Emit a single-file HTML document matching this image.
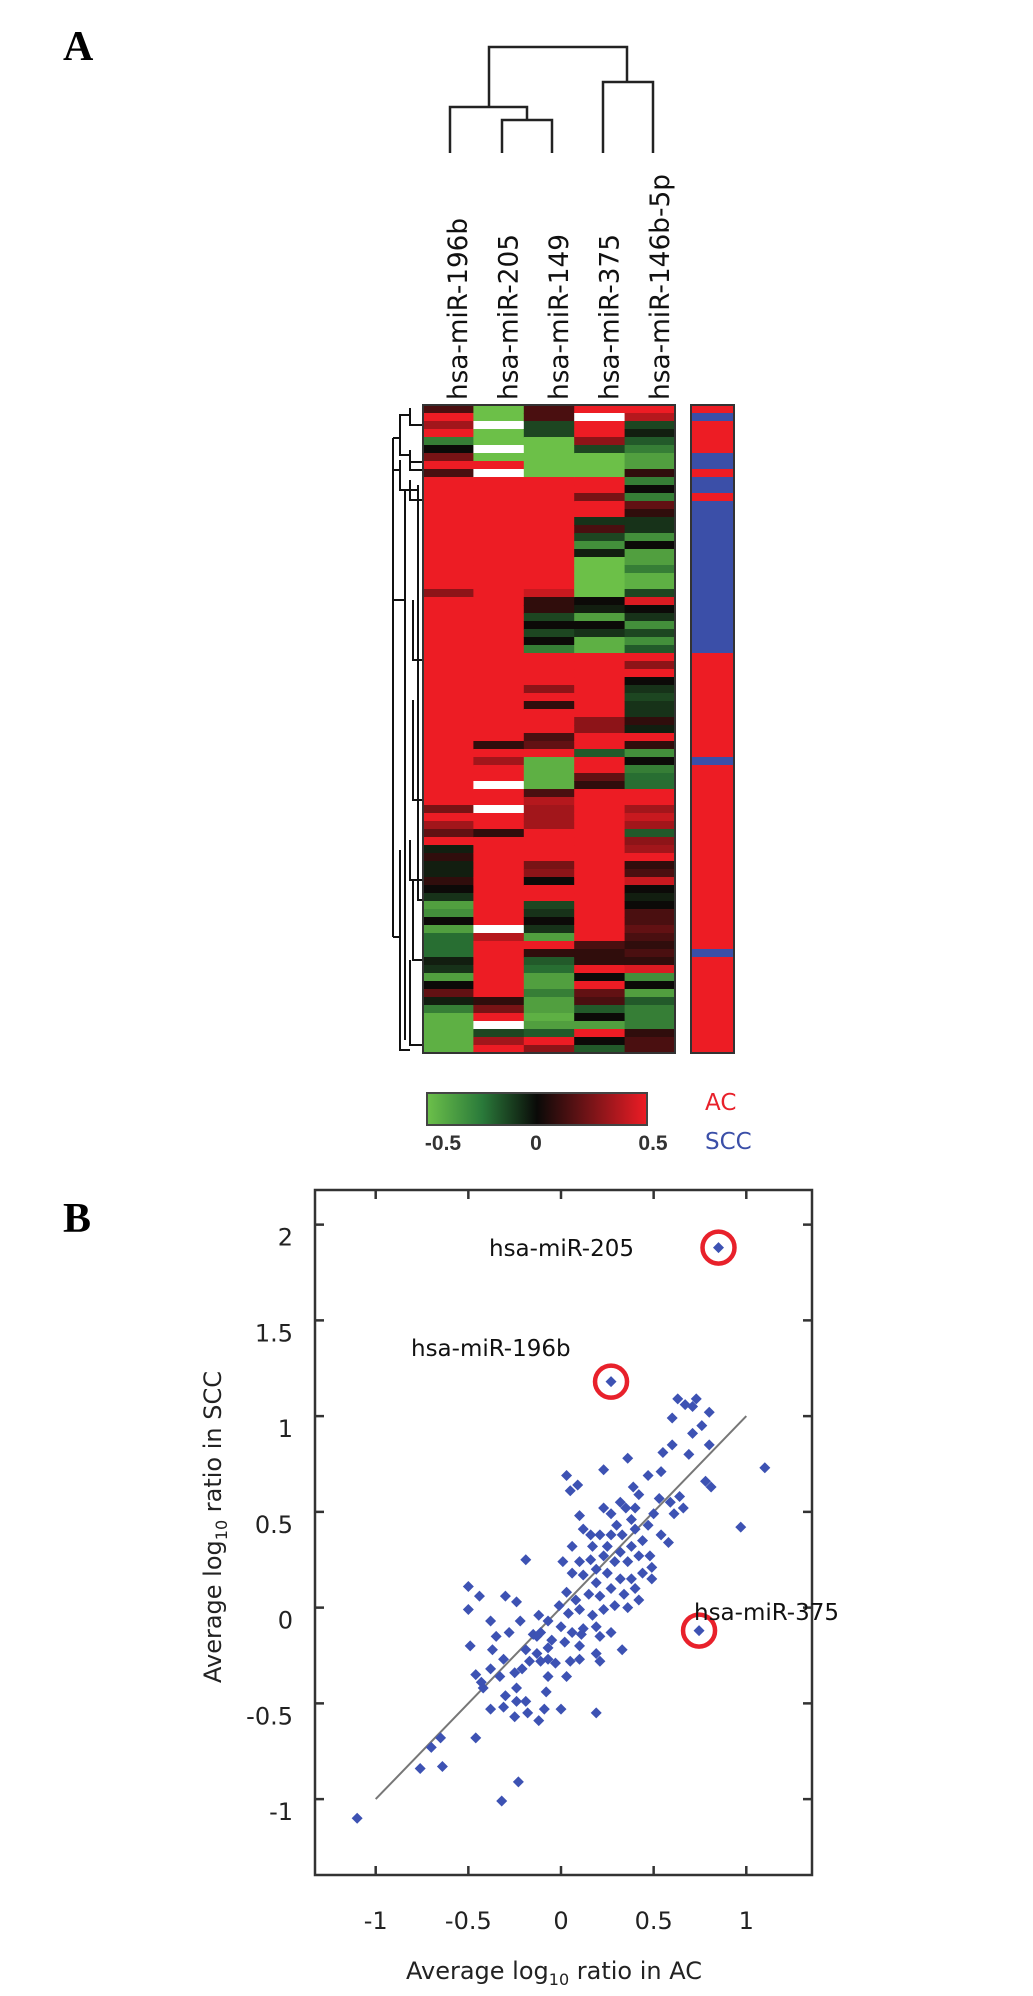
<!DOCTYPE html>
<html><head><meta charset="utf-8"><style>
html,body{margin:0;padding:0;background:#fff;}
svg{display:block;}
</style></head><body>
<svg id="fig" width="1033" height="1996" viewBox="0 0 1033 1996" xmlns="http://www.w3.org/2000/svg">
<text x="63" y="60" font-family="Liberation Serif, serif" font-weight="bold" font-size="42">A</text>
<text x="63" y="1232" font-family="Liberation Serif, serif" font-weight="bold" font-size="42">B</text>
<g id="coldendro" stroke="#222" stroke-width="2.5" fill="none">
<path d="M450 153 V107 H527 V120 M502 153 V120 H552 V153 M489 107 V47 H627 V82 M603 153 V82 H653 V153"/>
</g>
<g id="rowdendro" stroke="#111" stroke-width="2" fill="none">
<path d="M393 438 V937 M393 438 H400 V415 H410 M400 415 V455 H410 M410 408 V425 H423 M410 450 V462 H423 M393 470 H400 V460 M400 460 V490 H410 M410 455 V470 H423 M410 480 V500 H423 M393 600 H405 M405 490 V1040 M405 490 H418 M418 485 V900 H423 M393 937 H400 V850 M400 850 V1050 H410 M410 840 V880 H423 M410 960 V1045 H423 M413 880 V960 H423 M413 600 V660 H423 M413 700 V800 H423"/>
</g>
<g id="collabels"></g>
<g id="heatmap"></g>
<rect x="423" y="405" width="252" height="648" fill="none" stroke="#333" stroke-width="2"/>
<g id="classbar"></g>
<rect x="691" y="405" width="43" height="648" fill="none" stroke="#333" stroke-width="2"/>
<defs><linearGradient id="cg" x1="0" x2="1" y1="0" y2="0">
<stop offset="0" stop-color="#6cc04a"/><stop offset="0.25" stop-color="#2a7a3a"/><stop offset="0.5" stop-color="#0a0a08"/><stop offset="0.75" stop-color="#7a1418"/><stop offset="1" stop-color="#ee1c25"/></linearGradient></defs>
<rect x="427" y="1093" width="220" height="32" fill="url(#cg)" stroke="#444" stroke-width="2"/>
<g font-family="Liberation Sans, sans-serif" font-weight="bold" font-size="21" fill="#333" text-anchor="middle">
<text x="443" y="1150">-0.5</text>
<text x="536" y="1150">0</text>
<text x="653" y="1150">0.5</text>
</g>
<text x="705" y="1110" font-family="DejaVu Sans, sans-serif" font-size="23" fill="#e8212b">AC</text>
<text x="705" y="1149" font-family="DejaVu Sans, sans-serif" font-size="23" fill="#3b4fa8">SCC</text>
<g id="scatter"></g>
</svg>
<script>
const NS='http://www.w3.org/2000/svg';
const colNames=['hsa-miR-196b','hsa-miR-205','hsa-miR-149','hsa-miR-375','hsa-miR-146b-5p'];
const c196b=[.1,.5,.3,.5,-.3,0,.2,.5,.1,.5,.5,.5,.5,.5,.5,.5,.5,.5,.5,.5,.5,.5,.5,.25,.5,.5,.5,.5,.5,.5,.5,.5,.5,.5,.5,.5,.5,.5,.5,.5,.5,.5,.5,.5,.5,.5,.5,.5,.5,.5,.2,.5,.3,.15,.5,-.05,.05,-.05,-.05,.05,0,-.1,-.4,-.35,0,-.4,-.25,-.25,-.25,-.05,-.1,-.4,0,.15,-.05,-.3,-.45,-.45,-.45,-.45,-.45];
const c205=[-.5,-.5,null,-.5,-.5,null,-.5,.5,null,.5,.5,.5,.5,.5,.5,.5,.5,.5,.5,.5,.5,.5,.5,.5,.5,.5,.5,.5,.5,.5,.5,.5,.5,.5,.5,.5,.5,.5,.5,.5,.5,.5,.05,.5,.3,.5,.5,null,.5,.5,null,.5,.5,.05,.5,.5,.5,.5,.5,.5,.5,.5,.5,.5,.5,null,.35,.5,.5,.5,.5,.5,.5,.5,.05,.2,.5,null,-.15,.3,.5];
const c149=[.1,.1,-.15,-.15,-.5,-.5,-.5,-.5,-.5,.5,.5,.5,.5,.5,.5,.5,.5,.5,.5,.5,.5,.5,.5,.4,.05,.05,-.15,0,-.15,0,-.3,.5,.5,.5,.5,.25,.5,.05,.5,.5,.5,.1,.15,.5,-.45,-.45,-.45,-.45,.1,.35,.3,.3,.3,.5,.5,.5,.5,.2,.25,0,.5,.5,-.15,-.1,0,-.1,-.4,.5,.05,-.2,-.25,-.4,-.4,-.3,-.4,-.4,-.45,-.4,-.2,.5,.25];
const c375=[.5,null,.5,.5,.25,-.15,-.5,-.5,-.5,.5,.5,.2,.5,.5,-.1,.1,-.15,-.35,-.05,-.5,-.5,-.5,-.5,-.5,0,-.05,-.4,0,-.1,-.45,-.45,.5,.5,.5,.5,.5,.5,.5,.5,.25,.25,.5,.5,-.2,.5,.5,.15,.05,.5,.5,.5,.5,.5,.5,.5,.5,.5,.5,.5,.5,.5,.5,.5,.5,.5,.5,.5,.1,.05,.05,.5,0,.5,.15,.1,-.2,0,-.4,.5,0,-.2];
const c146b=[.5,.35,-.15,-.05,-.2,-.3,-.4,-.4,.05,-.3,0,-.3,.15,.05,-.1,-.1,-.35,0,-.4,-.4,-.3,-.45,-.45,-.15,.45,0,-.1,-.35,-.15,-.35,-.2,.5,.25,.5,0,-.1,-.15,-.1,-.1,.05,-.05,.5,.05,-.35,0,-.3,-.25,-.25,.5,.5,.3,.4,.3,-.2,.25,.3,.5,.05,.1,.4,0,-.05,0,.1,.1,.15,.1,.05,.1,.05,.45,-.35,0,-.4,-.2,-.3,-.3,-.3,.05,.1,.1];
const sccRows=[1,6,7,9,10,12,13,14,15,16,17,18,19,20,21,22,23,24,25,26,27,28,29,30,44,68];
const xTicks=[-1,-0.5,0,0.5,1];
const yTicks=[2,1.5,1,0.5,0,-0.5,-1];
const xTickLabels=['-1','-0.5','0','0.5','1'];
const yTickLabels=['2','1.5','1','0.5','0','-0.5','-1'];
const acVals=[0.63,0.67,0.73,0.71,0.80,0.60,0.76,0.71,0.80,0.60,0.55,0.69,0.36,0.23,0.54,1.10,0.03,0.47,0.09,0.05,0.78,0.81,0.64,0.39,0.42,0.53,0.59,0.66,0.61,0.97,0.10,0.54,0.58,0.06,-0.19,0.49,0.48,0.01,0.19,0.23,0.27,0.32,0.30,0.35,0.38,0.33,0.40,0.27,0.21,0.16,0.12,0.17,0.25,0.32,0.38,0.42,0.36,0.29,0.23,0.16,0.10,0.06,0.12,0.19,0.25,0.32,0.38,0.44,0.40,0.34,0.27,0.21,0.15,0.08,0.03,-0.01,0.04,0.10,0.17,0.23,0.29,0.36,0.42,0.19,0.12,0.06,0.00,-0.07,-0.11,-0.15,-0.12,-0.05,0.02,0.10,0.19,0.21,0.33,0.27,0.21,-0.07,-0.13,-0.19,-0.17,-0.11,-0.07,-0.03,0.05,0.10,-0.13,-0.50,-0.44,-0.50,-0.49,-0.38,-0.30,-0.24,-0.22,-0.28,-0.35,-0.37,-0.31,-0.38,-0.46,-0.43,-0.42,-0.33,-0.25,-0.21,-0.24,-0.30,-0.24,-0.19,-0.38,-0.31,-0.25,-0.18,-0.12,-0.08,-0.09,0.00,0.19,-0.46,-0.65,-0.70,-0.76,-0.64,-0.23,-0.32,-1.10,-0.07,0.03,0.11,0.44,0.47,0.50,0.40,0.49,0.85,0.27,0.745];
const sccVals=[1.09,1.06,1.09,1.05,1.02,0.99,0.95,0.91,0.85,0.85,0.81,0.80,0.78,0.72,0.71,0.73,0.69,0.69,0.64,0.61,0.66,0.63,0.58,0.63,0.59,0.57,0.55,0.52,0.49,0.42,0.48,0.38,0.34,0.32,0.25,0.21,0.27,0.24,0.20,0.52,0.49,0.55,0.43,0.52,0.46,0.38,0.41,0.38,0.38,0.38,0.41,0.32,0.32,0.29,0.32,0.27,0.24,0.24,0.27,0.25,0.24,0.18,0.17,0.13,0.18,0.15,0.15,0.18,0.10,0.07,0.10,0.06,0.07,0.04,0.08,0.01,-0.03,-0.01,-0.04,-0.01,0.01,0.00,0.04,-0.10,-0.11,-0.13,-0.10,-0.07,-0.13,-0.14,-0.04,-0.17,-0.18,-0.20,-0.24,-0.28,-0.22,-0.13,-0.15,-0.21,-0.24,-0.22,-0.28,-0.28,-0.27,-0.29,-0.28,-0.27,-0.15,0.11,0.06,-0.01,-0.20,-0.07,0.06,0.03,-0.07,-0.13,-0.15,-0.22,-0.27,-0.32,-0.35,-0.39,-0.42,-0.36,-0.34,-0.32,-0.42,-0.46,-0.49,-0.49,-0.53,-0.52,-0.57,-0.55,-0.59,-0.44,-0.53,-0.53,-0.55,-0.68,-0.68,-0.73,-0.84,-0.83,-0.91,-1.01,-1.10,-0.36,-0.36,-0.14,0.35,0.43,0.49,0.52,0.15,1.88,1.18,-0.12];
const highlightNames=['hsa-miR-205','hsa-miR-196b','hsa-miR-375'];
const highlightAC=[0.85,0.27,0.745];
const highlightSCC=[1.88,1.18,-0.12];

const hm=document.getElementById('heatmap');
const cols=[c196b,c205,c149,c375,c146b];
const HX=423,HY=405,CW=50.4,RH=8;
function mix(a,b,t){return a.map((v,i)=>Math.round(v+(b[i]-v)*t));}
function heatColor(v){
  if(v===null)return '#ffffff';
  const t=Math.max(-1,Math.min(1,v/0.5));
  const blk=[12,10,8],red=[237,28,36],dg=[40,110,50],grn=[108,192,72];
  if(t>=0)return 'rgb('+mix(blk,red,Math.pow(t,0.8)).join(',')+')';
  const a=-t; return 'rgb('+(a<0.5?mix(blk,dg,a*2):mix(dg,grn,(a-0.5)*2)).join(',')+')';
}
cols.forEach((col,ci)=>{
  col.forEach((v,ri)=>{
    const r=document.createElementNS(NS,'rect');
    r.setAttribute('x',HX+ci*CW);r.setAttribute('y',HY+ri*RH);
    r.setAttribute('width',CW+0.6);r.setAttribute('height',RH+0.6);
    r.setAttribute('fill',heatColor(v));
    
    
    hm.appendChild(r);
  });
});
const cl=document.getElementById('collabels');
colNames.forEach((n,ci)=>{
  const t=document.createElementNS(NS,'text');
  const bx=HX+ci*CW+CW/2+19;
  t.setAttribute('transform','translate('+bx+',400) rotate(-90)');
  t.setAttribute('font-family','DejaVu Sans, sans-serif');
  t.setAttribute('font-size','27');
  t.setAttribute('fill','#111');
  t.setAttribute('textLength',n.length>12?226:(n.length>11?182:166));
  t.setAttribute('lengthAdjust','spacingAndGlyphs');
  t.textContent=n;
  
  
  cl.appendChild(t);
});
const cb=document.getElementById('classbar');
for(let i=0;i<c196b.length;i++){
  const r=document.createElementNS(NS,'rect');
  r.setAttribute('x',691);r.setAttribute('y',HY+i*RH);
  r.setAttribute('width',43);r.setAttribute('height',RH+0.6);
  r.setAttribute('fill',sccRows.includes(i)?'#3b4fa8':'#ed1c24');
  
  
  cb.appendChild(r);
}
const sc=document.getElementById('scatter');
const sx=v=>561+v*185.3, sy=v=>1607.6-v*191.5;
const BL=315,BT=1190,BR=812,BB=1875;
function el(tag,attrs,parent){const e=document.createElementNS(NS,tag);for(const k in attrs)e.setAttribute(k,attrs[k]);(parent||sc).appendChild(e);return e;}
const box=el('rect',{x:BL,y:BT,width:BR-BL,height:BB-BT,fill:'none',stroke:'#333','stroke-width':2.5});


xTicks.forEach((v,i)=>{
  const x=sx(v);
  const t1=el('path',{d:'M'+x+' '+BB+' V'+(BB-9)+' M'+x+' '+BT+' V'+(BT+9),stroke:'#333','stroke-width':2.5});
  
  
  const l=el('text',{x:x,y:1929,'text-anchor':'middle','font-family':'DejaVu Sans, sans-serif','font-size':24,fill:'#222'});
  l.textContent=xTickLabels[i];
  
  
});
yTicks.forEach((v,i)=>{
  const y=sy(v);
  const t1=el('path',{d:'M'+BL+' '+y+' H'+(BL+9)+' M'+BR+' '+y+' H'+(BR-9),stroke:'#333','stroke-width':2.5});
  
  
  const l=el('text',{x:293,y:y+21,'text-anchor':'end','font-family':'DejaVu Sans, sans-serif','font-size':24,fill:'#222'});
  l.textContent=yTickLabels[i];
  
  
});
const reg=el('line',{x1:sx(-1),y1:sy(-1),x2:sx(1),y2:sy(1),stroke:'#777','stroke-width':2});


acVals.forEach((v,i)=>{
  const cx=sx(v),cy=sy(sccVals[i]),s=5.5;
  const p=el('path',{d:'M'+cx+' '+(cy-s)+' L'+(cx+s)+' '+cy+' L'+cx+' '+(cy+s)+' L'+(cx-s)+' '+cy+' Z',fill:'#3d52b3'});
  
  
});
const lblPos=[[489,1256],[411,1356],[694,1620]];
highlightNames.forEach((n,i)=>{
  const c=el('circle',{cx:sx(highlightAC[i]),cy:sy(highlightSCC[i]),r:16,fill:'none',stroke:'#e8212b','stroke-width':4.5});
  
  
  const t=el('text',{x:lblPos[i][0],y:lblPos[i][1],'font-family':'DejaVu Sans, sans-serif','font-size':23,fill:'#111'});
  t.textContent=n;
  
  
});
const xt=el('text',{x:554,y:1979,'text-anchor':'middle','font-family':'DejaVu Sans, sans-serif','font-size':24,fill:'#222'});
xt.innerHTML='Average log<tspan font-size="16" dy="6">10</tspan><tspan dy="-6"> ratio in AC</tspan>';


const yt=el('text',{transform:'translate(221,1527) rotate(-90)','text-anchor':'middle','font-family':'DejaVu Sans, sans-serif','font-size':24,fill:'#222'});
yt.innerHTML='Average log<tspan font-size="16" dy="6">10</tspan><tspan dy="-6"> ratio in SCC</tspan>';


</script>
</body></html>
